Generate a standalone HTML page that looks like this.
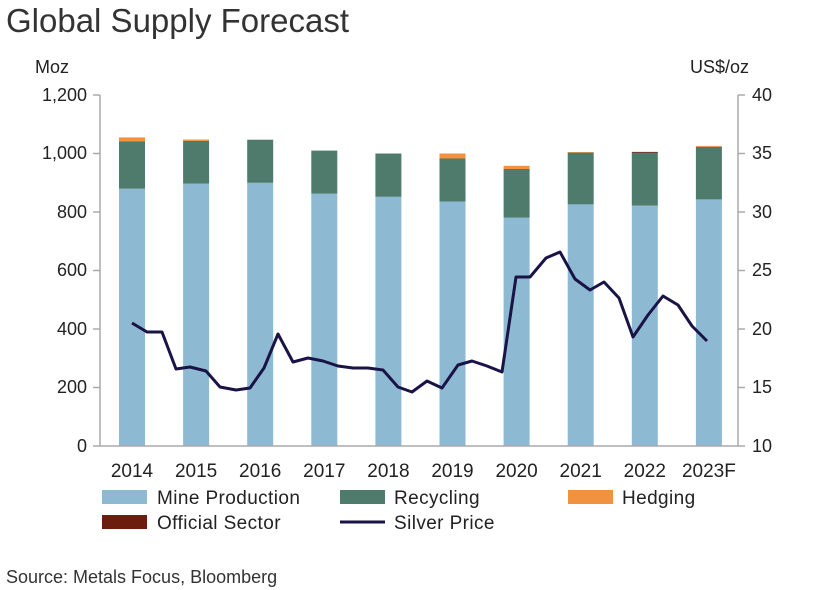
<!DOCTYPE html>
<html><head><style>body{margin:0;background:#fff}svg{display:block}text{font-family:"Liberation Sans",sans-serif;fill:#222}</style></head><body>
<svg width="829" height="590" xmlns="http://www.w3.org/2000/svg">
<text x="6" y="32" font-size="33" style="fill:#333">Global Supply Forecast</text>
<text x="35" y="73" font-size="18">Moz</text>
<text x="690" y="73" font-size="18">US$/oz</text>
<g fill="#8db9d3">
<rect x="119" y="188.6" width="26" height="257.4"/>
<rect x="183.1" y="183.6" width="26" height="262.4"/>
<rect x="247.2" y="182.8" width="26" height="263.2"/>
<rect x="311.3" y="193.6" width="26" height="252.4"/>
<rect x="375.4" y="196.8" width="26" height="249.2"/>
<rect x="439.5" y="201.5" width="26" height="244.5"/>
<rect x="503.6" y="217.6" width="26" height="228.4"/>
<rect x="567.7" y="204.4" width="26" height="241.6"/>
<rect x="631.8" y="205.6" width="26" height="240.4"/>
<rect x="695.9" y="199.4" width="26" height="246.6"/>
</g>
<g fill="#4f7b6c">
<rect x="119" y="141.2" width="26" height="47.4"/>
<rect x="183.1" y="140.9" width="26" height="42.7"/>
<rect x="247.2" y="139.7" width="26" height="43.1"/>
<rect x="311.3" y="150.6" width="26" height="43.0"/>
<rect x="375.4" y="153.5" width="26" height="43.3"/>
<rect x="439.5" y="158.5" width="26" height="43.0"/>
<rect x="503.6" y="169.0" width="26" height="48.6"/>
<rect x="567.7" y="152.6" width="26" height="51.8"/>
<rect x="631.8" y="152.6" width="26" height="53"/>
<rect x="695.9" y="146.8" width="26" height="52.6"/>
</g>
<g fill="#f0923f">
<rect x="119" y="137.4" width="26" height="3.8"/>
<rect x="183.1" y="139.5" width="26" height="1.4"/>
<rect x="439.5" y="153.5" width="26" height="5.0"/>
<rect x="503.6" y="165.8" width="26" height="3.2"/>
<rect x="567.7" y="152.0" width="26" height="0.6"/>
<rect x="695.9" y="145.9" width="26" height="0.9"/>
</g>
<rect x="631.8" y="151.9" width="26" height="0.8" fill="#6b1d0e"/>
<g stroke="#aaa" stroke-width="1.5">
<line x1="100" y1="95" x2="100" y2="446"/><line x1="738" y1="95" x2="738" y2="446"/>
<line x1="100" y1="446" x2="738" y2="446"/>
<line x1="93" y1="95" x2="100" y2="95"/><line x1="93" y1="153.5" x2="100" y2="153.5"/><line x1="93" y1="212" x2="100" y2="212"/><line x1="93" y1="270.5" x2="100" y2="270.5"/><line x1="93" y1="329" x2="100" y2="329"/><line x1="93" y1="387.5" x2="100" y2="387.5"/><line x1="93" y1="446" x2="100" y2="446"/>
<line x1="738" y1="95" x2="745" y2="95"/><line x1="738" y1="153.5" x2="745" y2="153.5"/><line x1="738" y1="212" x2="745" y2="212"/><line x1="738" y1="270.5" x2="745" y2="270.5"/><line x1="738" y1="329" x2="745" y2="329"/><line x1="738" y1="387.5" x2="745" y2="387.5"/><line x1="738" y1="446" x2="745" y2="446"/>
</g>
<g font-size="18" text-anchor="end">
<text x="87" y="101">1,200</text><text x="87" y="159">1,000</text><text x="87" y="218">800</text><text x="87" y="276">600</text><text x="87" y="335">400</text><text x="87" y="393">200</text><text x="87" y="452">0</text>
</g>
<g font-size="18">
<text x="752" y="101">40</text><text x="752" y="159">35</text><text x="752" y="218">30</text><text x="752" y="276">25</text><text x="752" y="335">20</text><text x="752" y="393">15</text><text x="752" y="452">10</text>
</g>
<g font-size="19" text-anchor="middle">
<text x="132" y="477">2014</text><text x="196.1" y="477">2015</text><text x="260.2" y="477">2016</text><text x="324.3" y="477">2017</text><text x="388.4" y="477">2018</text><text x="452.5" y="477">2019</text><text x="516.6" y="477">2020</text><text x="580.7" y="477">2021</text><text x="644.8" y="477">2022</text><text x="708.9" y="477">2023F</text>
</g>
<polyline fill="none" stroke="#1a1446" stroke-width="3" stroke-linejoin="round" points="132,323 147,332 162,332 176,369 190,367 206,371 220,387 236,390 250,388 264,368 278,334 293,362 308,358 323,361 338,366 353,368 368,368 383,370 398,387 412,392 427,381 442,388 458,365 472,361 487,366 502,372 516,277 530,277 546,258 560,252 575,279 590,290 604,282 619,298 633,337 648,315 663,296 678,305 692,326 707,341"/>
<g font-size="19" letter-spacing="0.4">
<rect x="102" y="490" width="45" height="14" fill="#8db9d3"/><text x="157" y="504">Mine Production</text>
<rect x="340" y="490" width="45" height="14" fill="#4f7b6c"/><text x="394" y="504">Recycling</text>
<rect x="568" y="490" width="45" height="14" fill="#f0923f"/><text x="622" y="504">Hedging</text>
<rect x="102" y="515" width="45" height="14" fill="#6b1d0e"/><text x="157" y="529">Official Sector</text>
<line x1="340" y1="522" x2="385" y2="522" stroke="#1a1446" stroke-width="3"/><text x="394" y="529">Silver Price</text>
</g>
<text x="6" y="583" font-size="18" style="fill:#333">Source: Metals Focus, Bloomberg</text>
</svg>
</body></html>
